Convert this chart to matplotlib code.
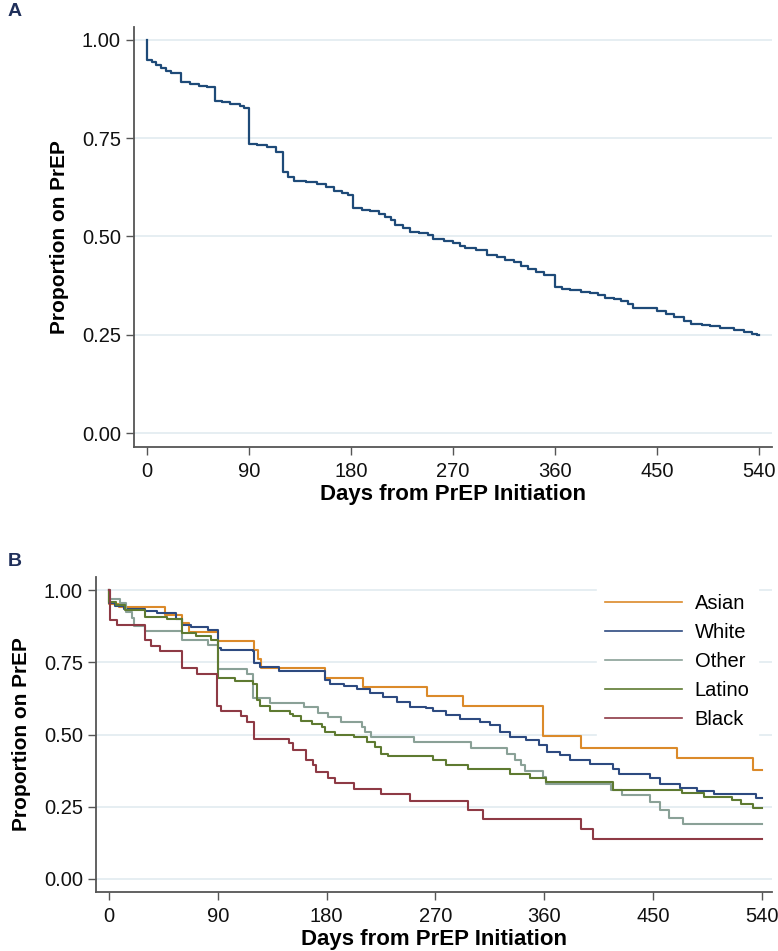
import matplotlib
matplotlib.use("Agg")
import matplotlib.pyplot as plt
import numpy as np

plt.rcParams['font.family'] = ['Liberation Sans', 'DejaVu Sans']

# ---------------- Data ----------------
# Panel A: overall Kaplan-Meier (day, proportion) change points
a_days = [0, 0, 4, 8, 12, 17, 21, 30, 38, 46, 53, 60, 66, 73, 82, 86, 90, 97, 106, 114,
          120, 124, 130, 140, 150, 158, 165, 172, 177, 182, 190, 197, 205, 210, 215, 219,
          226, 232, 240, 248, 252, 262, 270, 276, 281, 290, 300, 309, 316, 324, 330, 336,
          343, 350, 360, 366, 373, 383, 391, 398, 404, 412, 418, 424, 429, 450, 458, 465,
          474, 480, 490, 497, 506, 518, 527, 534, 538, 540]
a_surv = [1.000, 0.949, 0.944, 0.937, 0.928, 0.921, 0.917, 0.892, 0.889, 0.884, 0.880, 0.845,
          0.841, 0.837, 0.833, 0.826, 0.735, 0.732, 0.728, 0.716, 0.665, 0.652, 0.641, 0.638,
          0.634, 0.625, 0.617, 0.611, 0.606, 0.573, 0.568, 0.564, 0.558, 0.549, 0.541, 0.530,
          0.522, 0.512, 0.508, 0.503, 0.493, 0.489, 0.483, 0.476, 0.470, 0.465, 0.453, 0.447,
          0.441, 0.434, 0.425, 0.418, 0.410, 0.402, 0.372, 0.366, 0.363, 0.359, 0.355, 0.350,
          0.343, 0.340, 0.336, 0.328, 0.319, 0.310, 0.302, 0.295, 0.284, 0.278, 0.274, 0.271,
          0.267, 0.263, 0.258, 0.252, 0.249, 0.249]

# Panel B: by race/ethnicity
asian_days = [0, 0, 8, 46, 60, 66, 90, 120, 123, 126, 179, 210, 263, 293, 359, 390, 470, 533, 540]
asian_surv = [1.0, 0.950, 0.942, 0.913, 0.885, 0.856, 0.823, 0.792, 0.760, 0.729, 0.697, 0.665,
              0.633, 0.599, 0.494, 0.455, 0.417, 0.376, 0.376]

white_days = [0, 0, 5, 12, 30, 40, 55, 60, 68, 82, 90, 93, 119, 120, 125, 141, 179, 183, 194,
              205, 216, 227, 238, 249, 262, 268, 279, 290, 307, 315, 323, 332, 345, 356, 362,
              373, 381, 398, 417, 422, 447, 456, 472, 486, 500, 535, 540]
white_surv = [1.0, 0.955, 0.945, 0.936, 0.927, 0.919, 0.898, 0.879, 0.873, 0.861, 0.800, 0.794,
              0.789, 0.748, 0.734, 0.719, 0.690, 0.676, 0.667, 0.657, 0.644, 0.630, 0.613, 0.596,
              0.590, 0.582, 0.567, 0.555, 0.544, 0.532, 0.509, 0.492, 0.480, 0.463, 0.440, 0.428,
              0.413, 0.397, 0.382, 0.365, 0.348, 0.328, 0.315, 0.304, 0.293, 0.282, 0.282]

other_days = [0, 1, 9, 14, 19, 21, 30, 60, 82, 90, 114, 119, 133, 161, 173, 181, 192, 209, 212,
              217, 252, 299, 329, 336, 341, 344, 359, 361, 415, 424, 447, 456, 463, 475, 540]
other_surv = [1.0, 0.968, 0.954, 0.925, 0.902, 0.875, 0.858, 0.827, 0.809, 0.725, 0.708, 0.628,
              0.610, 0.596, 0.576, 0.561, 0.542, 0.527, 0.507, 0.492, 0.473, 0.455, 0.434, 0.411,
              0.394, 0.374, 0.353, 0.330, 0.309, 0.290, 0.267, 0.238, 0.212, 0.192, 0.192]

latino_days = [0, 0, 6, 13, 30, 48, 60, 72, 84, 90, 104, 119, 122, 125, 133, 150, 152, 159, 168,
               176, 179, 187, 203, 213, 220, 225, 231, 268, 279, 297, 332, 348, 361, 417, 474,
               492, 515, 523, 533, 540]
latino_surv = [1.0, 0.960, 0.948, 0.931, 0.908, 0.900, 0.850, 0.841, 0.827, 0.694, 0.685, 0.674,
               0.619, 0.599, 0.582, 0.570, 0.563, 0.547, 0.538, 0.527, 0.509, 0.498, 0.490, 0.475,
               0.457, 0.434, 0.425, 0.411, 0.394, 0.379, 0.365, 0.351, 0.334, 0.309, 0.296, 0.284,
               0.273, 0.258, 0.244, 0.244]

black_days = [0, 1, 7, 30, 35, 42, 60, 73, 89, 93, 109, 114, 120, 149, 152, 163, 169, 171, 181,
              187, 203, 225, 249, 297, 309, 390, 400, 540]
black_surv = [1.0, 0.896, 0.879, 0.827, 0.806, 0.790, 0.731, 0.711, 0.600, 0.582, 0.563, 0.543,
              0.486, 0.469, 0.446, 0.411, 0.394, 0.371, 0.348, 0.333, 0.313, 0.293, 0.270, 0.238,
              0.209, 0.174, 0.140, 0.140]

groups = ["Asian", "White", "Other", "Latino", "Black"]
group_days = [asian_days, white_days, other_days, latino_days, black_days]
group_surv = [asian_surv, white_surv, other_surv, latino_surv, black_surv]
group_colors = ["#DB8A2A", "#2D4A80", "#8AA197", "#5E7A31", "#8E3A45"]

x_ticks = [0, 90, 180, 270, 360, 450, 540]
y_ticks = [0.0, 0.25, 0.5, 0.75, 1.0]

# ---------------- Figure ----------------
W, H = 778, 951
fig = plt.figure(figsize=(W / 100, H / 100), dpi=100)

def px_axes(left, right, top, bottom):
    return fig.add_axes([left / W, 1 - bottom / H, (right - left) / W, (bottom - top) / H])

axA = px_axes(134, 772, 27, 447)
axB = px_axes(96, 772, 577, 892)

spine_col = "#555555"
grid_col = "#E6EEF2"

def style(ax, xlim, ylim):
    ax.set_xlim(*xlim)
    ax.set_ylim(*ylim)
    ax.set_xticks(x_ticks)
    ax.set_yticks(y_ticks)
    ax.set_yticklabels([f"{v:.2f}" for v in y_ticks])
    for s in ["top", "right"]:
        ax.spines[s].set_visible(False)
    for s in ["left", "bottom"]:
        ax.spines[s].set_color(spine_col)
        ax.spines[s].set_linewidth(1.3)
    ax.tick_params(axis="both", direction="out", length=6, width=1.0, color=spine_col,
                   labelsize=14.5, labelcolor="#111111")
    ax.tick_params(axis="y", pad=3.5)
    ax.tick_params(axis="x", pad=5)
    ax.grid(axis="y", color=grid_col, linewidth=1.4)
    ax.set_axisbelow(True)
    ax.set_xlabel("Days from PrEP Initiation", fontsize=16, fontweight="bold", labelpad=2)
    ax.set_ylabel("Proportion on PrEP", fontsize=15, fontweight="bold", labelpad=9)

# Panel A
axA.step(a_days, a_surv, where="post", color="#1E4A78", linewidth=1.6)
style(axA, (-11.5, 551.5), (-0.0356, 1.033))

# Panel B
for name, d, s, c in zip(groups, group_days, group_surv, group_colors):
    axB.step(d, s, where="post", color=c, linewidth=1.5, label=name)
style(axB, (-10.75, 548.3), (-0.045, 1.045))

leg = axB.legend(loc="upper left", bbox_to_anchor=(597 / W, 1 - 586 / H),
                 bbox_transform=fig.transFigure, frameon=True, fancybox=False,
                 edgecolor="white", facecolor="white", framealpha=1.0,
                 fontsize=14.5, handlelength=3.8, handletextpad=0.65,
                 labelspacing=0.5, borderaxespad=0.0, borderpad=0.4)
for line in leg.get_lines():
    line.set_linewidth(1.2)

fig.text(8 / W, 1 - 12 / H, "A", fontsize=14, fontweight="bold", color="#1F2F5A",
         ha="left", va="center")
fig.text(8 / W, 1 - 561 / H, "B", fontsize=14, fontweight="bold", color="#1F2F5A",
         ha="left", va="center")

fig.savefig("out.png", dpi=100)
